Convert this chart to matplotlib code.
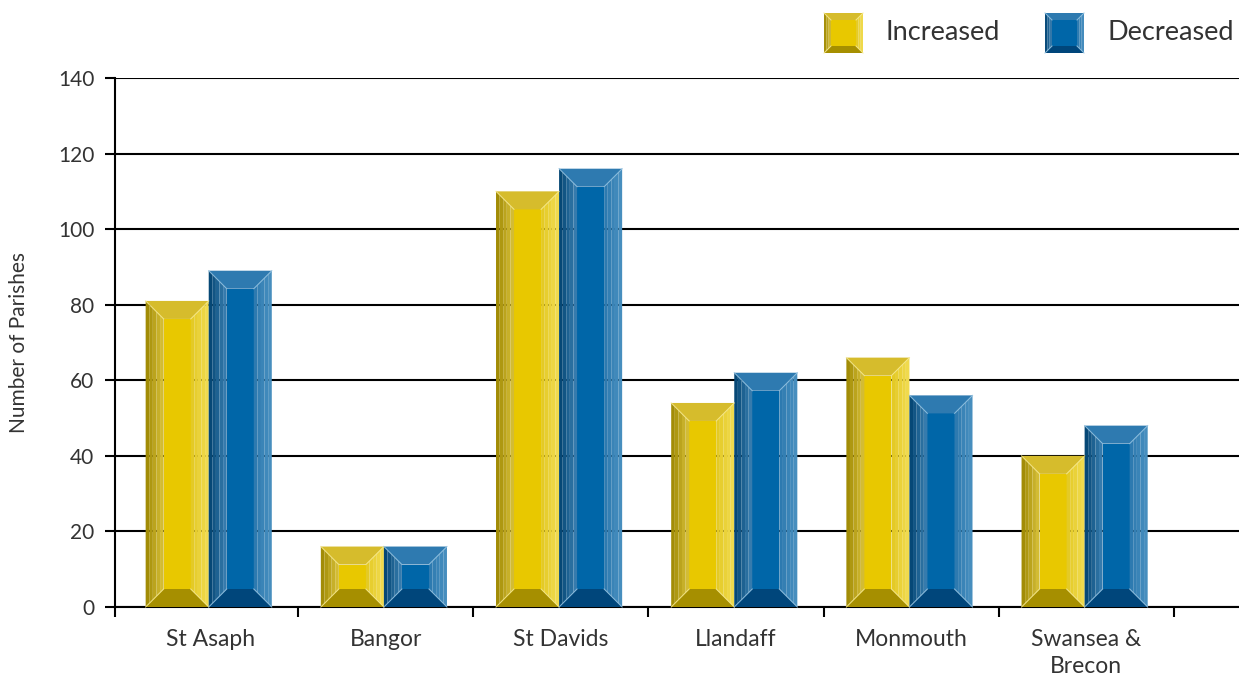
import matplotlib
matplotlib.use("Agg")
import matplotlib.pyplot as plt
import numpy as np
from matplotlib.patches import Polygon
from matplotlib.colors import to_rgb

# data
dioceses = ['St Asaph', 'Bangor', 'St Davids', 'Llandaff', 'Monmouth', 'Swansea &\nBrecon']
increased = [81, 16, 110, 54, 66, 40]
decreased = [89, 16, 116, 62, 56, 48]

plt.rcParams['font.family'] = ['Lato', 'DejaVu Sans']

# bevel colours: face, top, bottom, left (outer, inner), right (outer, inner), edge
yellow = dict(face='#E8C800', top='#D6BC2C', bottom='#A68F00',
              left=('#9C8600', '#D9C23A'), right=('#F2DC52', '#E2C820'), edge='#F6E88A')
blue = dict(face='#0066A8', top='#2E7AB0', bottom='#00467B',
            left=('#00416F', '#3C82B4'), right=('#4A90C0', '#2A78AE'), edge='#8FC0E0')


def mix(c1, c2, t):
    a, b = np.array(to_rgb(c1)), np.array(to_rgb(c2))
    return tuple(a + (b - a) * t)


def bevel(ax, x0, x1, y0, y1, dx, dy, pal, transform=None, z=3, bands=5):
    tr = transform if transform is not None else ax.transData
    kw = dict(transform=tr, zorder=z, lw=0, closed=True)
    # face
    ax.add_patch(Polygon([(x0 + dx, y0 + dy), (x1 - dx, y0 + dy), (x1 - dx, y1 - dy), (x0 + dx, y1 - dy)],
                         fc=pal['face'], **kw))
    ax.add_patch(Polygon([(x0, y1), (x1, y1), (x1 - dx, y1 - dy), (x0 + dx, y1 - dy)], fc=pal['top'], **kw))
    ax.add_patch(Polygon([(x0, y0), (x1, y0), (x1 - dx, y0 + dy), (x0 + dx, y0 + dy)], fc=pal['bottom'], **kw))
    ts = np.linspace(0, 1, bands + 1)
    for i in range(bands):
        a, b = ts[i], ts[i + 1]
        c = mix(pal['left'][0], pal['left'][1], (a + b) / 2)
        ax.add_patch(Polygon([(x0 + a * dx, y0 + a * dy), (x0 + b * dx, y0 + b * dy),
                              (x0 + b * dx, y1 - b * dy), (x0 + a * dx, y1 - a * dy)], fc=c, **kw))
        c = mix(pal['right'][0], pal['right'][1], (a + b) / 2)
        ax.add_patch(Polygon([(x1 - a * dx, y0 + a * dy), (x1 - b * dx, y0 + b * dy),
                              (x1 - b * dx, y1 - b * dy), (x1 - a * dx, y1 - a * dy)], fc=c, **kw))
    # light diagonal edges
    for (xa, ya, xb, yb) in [(x0, y1, x0 + dx, y1 - dy), (x1, y1, x1 - dx, y1 - dy),
                             (x0, y0, x0 + dx, y0 + dy), (x1, y0, x1 - dx, y0 + dy)]:
        ax.plot([xa, xb], [ya, yb], color=pal['edge'], lw=0.8, transform=tr, zorder=z + 0.5, alpha=0.8)


fig = plt.figure(figsize=(12.39, 6.77), dpi=100)
ax = fig.add_axes([115 / 1239, 1 - 607 / 677, (1240 - 115) / 1239, (607 - 78) / 677])

x = np.arange(len(dioceses))
w = 0.36
x_left, x_right = -0.545, 5.877
ax.set_xlim(x_left, x_right)
ax.set_ylim(0, 140)

px_per_x = (1240 - 115) / (x_right - x_left)
px_per_y = (607 - 78) / 140
dx = 18 / px_per_x
dy = 18 / px_per_y

for i in range(len(dioceses)):
    bevel(ax, x[i] - w - 0.01, x[i] - 0.01, 0, increased[i], dx, dy, yellow)
    bevel(ax, x[i] - 0.01, x[i] + w - 0.01, 0, decreased[i], dx, dy, blue)

txt = '#333333'
ax.set_yticks(np.arange(0, 141, 20))
ax.yaxis.grid(True, color='black', lw=1.5, zorder=0)
ax.set_axisbelow(True)
ax.set_xticks(x)
ax.set_xticklabels(dioceses, fontsize=16.5, color=txt, linespacing=1.35)
ax.tick_params(axis='x', length=0, pad=16)
ax.set_xticks(list(np.arange(0.5, 6, 1.0)) + [x_left], minor=True)
ax.tick_params(axis='x', which='minor', length=7, width=1.5, direction='out')
ax.tick_params(axis='y', length=7, width=1.5, labelsize=15, labelcolor=txt, pad=8)
for s in ['top', 'right']:
    ax.spines[s].set_visible(False)
ax.spines['left'].set_linewidth(1.5)
ax.spines['bottom'].set_linewidth(1.5)
ax.set_ylabel('Number of Parishes', fontsize=15, color=txt)
ax.yaxis.set_label_coords(-86 / 1125, 0.5)

# legend drawn in figure pixels
def px(xp, yp):
    return (xp / 1239, 1 - yp / 677)

for (x0p, label, pal) in [(824, 'Increased', yellow), (1045, 'Decreased', blue)]:
    (fx0, fy0), (fx1, fy1) = px(x0p, 53), px(x0p + 39, 13)
    bevel(ax, fx0, fx1, fy0, fy1, 7 / 1239, 7 / 677, pal, transform=fig.transFigure, z=5, bands=3)
    fig.text((x0p + 62) / 1239, 1 - 33 / 677, label, fontsize=19.5, color=txt, va='center', ha='left')

for a in ax.patches:
    a.set_clip_on(False)
for l in ax.lines:
    l.set_clip_on(False)

fig.savefig('out.png', dpi=100)
